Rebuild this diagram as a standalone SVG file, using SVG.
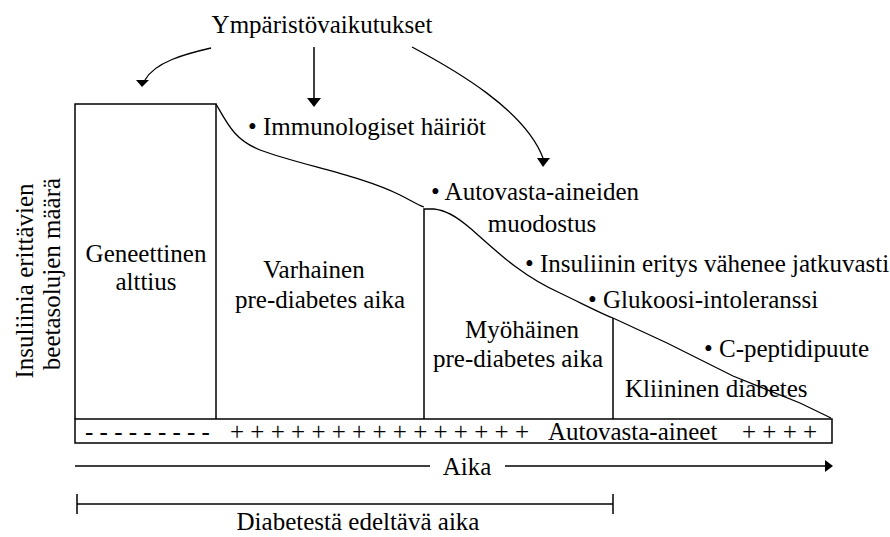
<svg xmlns="http://www.w3.org/2000/svg" width="890" height="537" viewBox="0 0 890 537">
<style>
text{font-family:"Liberation Serif","Times New Roman",serif;font-size:25px;fill:#000}
.ln{fill:none;stroke:#000;stroke-width:1.5}
.thin{fill:none;stroke:#000;stroke-width:1.3}
.mid{text-anchor:middle}
</style>
<rect width="890" height="537" fill="#fff"/>
<g id="title"><text class="mid" x="322" y="33">Ympäristövaikutukset</text></g>
<g id="connectors">
<path class="thin" d="M211,48 C185,54 155,62 145,80"/>
<polygon points="136,80 149,80 142,87"/>
<line class="ln" x1="314" y1="47" x2="314" y2="99"/>
<polygon points="307,98 321,98 314,107"/>
<path class="thin" d="M412,47 C455,70 525,110 543,158"/>
<polygon points="537,158 550,158 543,167"/>
<line class="ln" x1="75" y1="466" x2="430" y2="466"/>
<line class="ln" x1="505" y1="466" x2="826" y2="466"/>
<polygon points="825,460 833,466 825,472"/>
<line class="ln" x1="77" y1="504" x2="613" y2="504"/>
<line class="ln" x1="77" y1="494" x2="77" y2="514"/>
<line class="ln" x1="613" y1="494" x2="613" y2="514"/>
</g>
<g id="chart">
<path class="ln" d="M75,419 V104 H216 V419"/>
<path class="thin" d="M216,104 C228,125 235,140 260,150 C300,165 360,175 400,195 C410,200 418,205 424,207"/>
<path class="ln" d="M424,419 V209 H434"/>
<path class="thin" d="M434,209 C445,210 455,215 470,228 C495,250 520,275 560,293 C585,305 600,313 613,318 L667,343 L733,376 L800,403 L831,418"/>
<line class="ln" x1="613" y1="318" x2="613" y2="419"/>
</g>
<g id="autovasta-bar">
<rect class="ln" x="75" y="419" width="757" height="24"/>
<text x="85" y="440">- - - - - - - - -</text>
<text x="230" y="440">+ + + + + + + + + + + + + + +</text>
<text x="548" y="440">Autovasta-aineet</text>
<text x="742" y="440">+ + + +</text>
</g>
<g id="geneettinen"><text class="mid" x="146" y="262">Geneettinen</text><text class="mid" x="146" y="290">alttius</text></g>
<g id="varhainen"><text class="mid" x="314" y="278">Varhainen</text><text class="mid" x="320" y="308">pre-diabetes aika</text></g>
<g id="myohainen"><text class="mid" x="522" y="338">Myöhäinen</text><text class="mid" x="518" y="367">pre-diabetes aika</text></g>
<g id="kliininen"><text x="625" y="397">Kliininen diabetes</text></g>
<g id="immunologiset"><text x="248" y="135">• Immunologiset häiriöt</text></g>
<g id="autovasta-aineiden"><text x="431" y="200">• Autovasta-aineiden</text><text class="mid" x="542" y="232">muodostus</text></g>
<g id="insuliinin"><text x="525" y="272">• Insuliinin eritys vähenee jatkuvasti</text></g>
<g id="glukoosi"><text x="588" y="308">• Glukoosi-intoleranssi</text></g>
<g id="c-peptidi"><text x="704" y="357">• C-peptidipuute</text></g>
<g id="y-axis">
<text class="mid" transform="translate(33,281) rotate(-90)">Insuliinia erittävien</text>
<text class="mid" transform="translate(60,274) rotate(-90)">beetasolujen määrä</text>
</g>
<g id="aika"><text class="mid" x="467" y="475">Aika</text></g>
<g id="edeltava"><text class="mid" x="358" y="530">Diabetestä edeltävä aika</text></g>
</svg>
